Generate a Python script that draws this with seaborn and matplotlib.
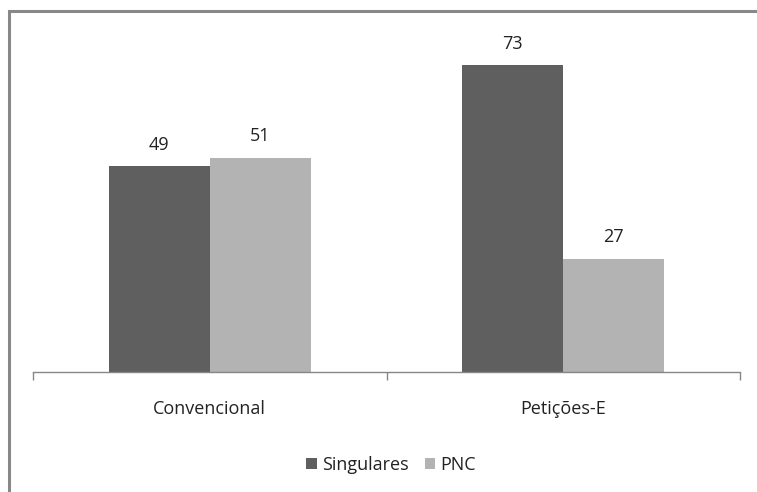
import matplotlib
matplotlib.use("Agg")
import matplotlib.pyplot as plt
import seaborn as sns
import pandas as pd
from matplotlib.ticker import FixedLocator
from matplotlib.patches import Rectangle

categories = ["Convencional", "Petições-E"]
series = ["Singulares", "PNC"]
singulares = [49, 73]
pnc = [51, 27]
colors = ["#5f5f5f", "#b3b3b3"]

df = pd.DataFrame({
    "cat": categories * 2,
    "serie": [series[0]] * 2 + [series[1]] * 2,
    "val": singulares + pnc,
})

sns.set_theme(style="white")
plt.rcParams["font.family"] = ["Open Sans", "DejaVu Sans"]

fig = plt.figure(figsize=(7.57, 4.92), dpi=100)
ax = fig.add_axes([33 / 757, 1 - 372 / 492, (740 - 33) / 757, 336 / 492])

sns.barplot(data=df, x="cat", y="val", hue="serie", order=categories,
            hue_order=series, palette=colors, width=202 / 353,
            saturation=1, ax=ax, legend=True)

ax.set_xlim(-0.5, 1.5)
ax.set_ylim(0, 80)
ax.set_xlabel("")
ax.set_ylabel("")
ax.set_yticks([])
for s in ["top", "right", "left"]:
    ax.spines[s].set_visible(False)
ax.spines["bottom"].set_color("#868686")
ax.spines["bottom"].set_linewidth(1)

ax.tick_params(axis="x", which="major", bottom=False, length=0, pad=20,
               labelsize=13, labelcolor="#222222")
ax.xaxis.set_minor_locator(FixedLocator([-0.5, 0.5, 1.5]))
ax.tick_params(axis="x", which="minor", bottom=True, length=6,
               color="#868686", width=1, direction="out")

for cont in ax.containers:
    ax.bar_label(cont, labels=[f"{int(v)}" for v in cont.datavalues],
                 padding=9, fontsize=13, color="#222222")

for p in ax.patches:
    p.set_edgecolor("none")

leg = ax.legend(loc="center", bbox_to_anchor=(391 / 757, 1 - 465 / 492),
                bbox_transform=fig.transFigure, ncol=2, frameon=False,
                fontsize=13, handlelength=0.6, handleheight=0.6,
                handletextpad=0.25, columnspacing=0.9)
for t in leg.get_texts():
    t.set_color("#222222")

# figure border (top and left visible)
fig.patches.append(Rectangle((9 / 757, -0.1), 1.2, (1 - 11 / 492) + 0.1,
                             transform=fig.transFigure, fill=False,
                             edgecolor="#888888", linewidth=2.2))

fig.savefig("out.png", dpi=100)
